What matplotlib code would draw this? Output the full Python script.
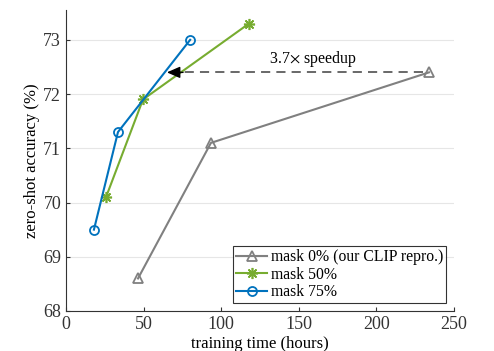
"""Training time vs zero-shot accuracy for different mask ratios."""
import matplotlib
matplotlib.use('Agg')
import matplotlib.pyplot as plt

# data
hours_mask0 = [46.4, 93.4, 233.9]
acc_mask0 = [68.6, 71.1, 72.4]
hours_mask50 = [25.8, 49.6, 117.9]
acc_mask50 = [70.1, 71.9, 73.3]
hours_mask75 = [18.0, 33.5, 80.0]
acc_mask75 = [69.5, 71.3, 73.0]
labels = ['mask 0% (our CLIP repro.)', 'mask 50%', 'mask 75%']
speedup = 3.7

gray = '#808080'
green = '#77AC30'
blue = '#0072BD'

plt.rcParams['font.family'] = ['Liberation Serif', 'DejaVu Serif']
plt.rcParams['mathtext.fontset'] = 'stix'

fig = plt.figure(figsize=(4.94, 3.51), dpi=100)
ax = fig.add_axes([0.1336, 0.114, 0.7854, 0.8575])

for y in range(68, 74):
    ax.axhline(y, color='#e6e6e6', linewidth=0.8, zorder=0)

ax.plot(hours_mask0, acc_mask0, color=gray, marker='^', markersize=7,
        markerfacecolor='none', markeredgewidth=1.3, linewidth=1.5,
        label=labels[0])
ax.plot(hours_mask50, acc_mask50, color=green, marker=(8, 2, 0),
        markersize=8, markeredgewidth=1.2, linewidth=1.5, label=labels[1])
ax.plot(hours_mask75, acc_mask75, color=blue, marker='o', markersize=6.5,
        markerfacecolor='none', markeredgewidth=1.3, linewidth=1.5,
        label=labels[2])

# speedup arrow
x_end = hours_mask0[-1]
y_arr = acc_mask0[-1]
ax.plot([x_end - 4, x_end / speedup + 12], [y_arr, y_arr], color='#404040',
        linestyle=(0, (6, 4)), linewidth=1.1, zorder=1)
ax.annotate('', xy=(x_end / speedup, y_arr),
            xytext=(x_end / speedup + 14, y_arr),
            arrowprops=dict(arrowstyle='-|>,head_length=0.8,head_width=0.35',
                            color='black', lw=1.0))
ax.text(159, y_arr + 0.07, r'3.7$\times$ speedup', fontsize=11.5,
        ha='center', va='bottom')

ax.set_xlim(0, 250)
ax.set_ylim(68, 73.55)
ax.set_xticks([0, 50, 100, 150, 200, 250])
ax.set_yticks([68, 69, 70, 71, 72, 73])
ax.tick_params(direction='in', labelsize=13, length=3, colors='#333333')
ax.spines['top'].set_visible(False)
ax.spines['right'].set_visible(False)
for s in ['left', 'bottom']:
    ax.spines[s].set_color('#333333')
ax.set_xlabel('training time (hours)', fontsize=12, labelpad=2)
ax.set_ylabel('zero-shot accuracy (%)', fontsize=12, labelpad=2)

leg = ax.legend(loc='lower right', fontsize=11.3, frameon=True, fancybox=False,
                edgecolor='black', handlelength=2.0, handletextpad=0.2,
                borderpad=0.2, labelspacing=0.08, borderaxespad=0.5)
leg.get_frame().set_linewidth(0.8)

fig.savefig('out.png', dpi=100)
